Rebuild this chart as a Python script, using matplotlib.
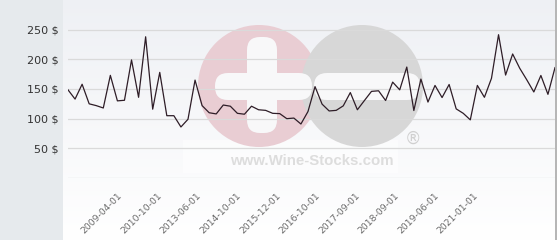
import numpy as np
import matplotlib
matplotlib.use("Agg")
import matplotlib.pyplot as plt
from matplotlib.patches import Circle, FancyBboxPatch, Rectangle

# Price history (USD), one value per listing, evenly spaced on the axis
prices = [
    148.6, 133, 158, 125, 122, 118, 173, 130, 131, 199,
    136, 238, 116, 178, 105, 105, 86, 99, 165, 122,
    110, 108, 123, 121, 109, 107.5, 121, 115, 114, 109,
    108.5, 100, 101, 91, 112, 154, 124.5, 113, 114, 121.6,
    144, 115, 130.6, 146, 147, 130.6, 161.6, 148.6, 187, 113.7,
    166.7, 128, 156, 135.6, 157.6, 116.5, 109, 98, 156, 136,
    168, 241.5, 173.5, 209, 185, 165.5, 145, 172.8, 141, 186,
]

# Tick labels and where they fall along the (ordinal) x axis
tick_labels = [
    "2009-04-01", "2010-10-01", "2013-06-01", "2014-10-01", "2015-12-01",
    "2016-10-01", "2017-09-01", "2018-09-01", "2019-06-01", "2021-01-01",
]
tick_pos = [7.4, 13.05, 18.6, 24.25, 29.9, 35.45, 41.1, 46.65, 52.3, 57.95]

y_ticks = [50, 100, 150, 200, 250]

W, H = 560, 240
fig = plt.figure(figsize=(W / 100, H / 100), dpi=100)

# Background layer in pixel coordinates
bg = fig.add_axes([0, 0, 1, 1], zorder=0)
bg.set_xlim(0, W)
bg.set_ylim(H, 0)
bg.axis("off")
bg.add_patch(Rectangle((0, 0), 63, H, color="#e6eaed", lw=0))
grad = np.linspace(0, 1, 256).reshape(-1, 1)
top = np.array([0.935, 0.942, 0.958])
bottom = np.array([1.0, 1.0, 1.0])
img = top + (bottom - top) * grad[..., None]
bg.imshow(img, extent=[63, 555, H, 0], aspect="auto", zorder=1)
bg.plot([555.5, 555.5], [0, H], color="#a8a8a8", lw=1.2, zorder=2)

# Watermark
bg.add_patch(Rectangle((183, 140), 215, 33, color="white", alpha=0.5, lw=0, zorder=2))
bg.add_patch(Circle((259, 86), 61, color="#e9cdd3", lw=0, zorder=3))
bg.add_patch(Circle((362, 86), 61, color="#d7d7d7", lw=0, zorder=3))
bars = [(247, 37, 30, 96), (215, 73, 97, 27), (314, 73, 106, 27)]
for x0, y0, w, h in bars:
    bg.add_patch(FancyBboxPatch((x0, y0), w, h, boxstyle="round,pad=0,rounding_size=13",
                                fc="#f8f8f9", ec="none", zorder=4))
bg.text(312, 161, "www.Wine-Stocks.com", ha="center", va="center",
        family="Liberation Sans", weight="bold", fontsize=10.8, color="#dddddd", zorder=4)
bg.text(413, 139, "®", ha="center", va="center", family="DejaVu Sans",
        fontsize=12, color="#d0d0d0", zorder=4)

# Data axes
left, right, zero_y = 68, 555, 178
ax = fig.add_axes([left / W, (H - zero_y) / H, (right - left) / W, zero_y / H], zorder=1)
ax.patch.set_alpha(0)
x = np.arange(len(prices))
ax.plot(x, prices, color="#2e1d27", lw=0.9, zorder=3)
ax.set_xlim(0, len(prices) - 1)
ax.set_ylim(0, 300)

for v in [0] + y_ticks:
    ax.axhline(v, color="#dadada", lw=0.9, zorder=1)

ax.set_yticks(y_ticks)
ax.set_yticklabels([f"{v} $" for v in y_ticks], fontsize=8, color="#333333")
ax.set_xticks(tick_pos)
ax.set_xticklabels(tick_labels, rotation=45, ha="right", va="center",
                   rotation_mode="anchor", fontsize=6.7, color="#6a6a6a")
ax.tick_params(axis="y", length=0, pad=6.5)
ax.tick_params(axis="x", length=0, pad=11.5)
for s in ax.spines.values():
    s.set_visible(False)

fig.savefig("out.png", dpi=100)
